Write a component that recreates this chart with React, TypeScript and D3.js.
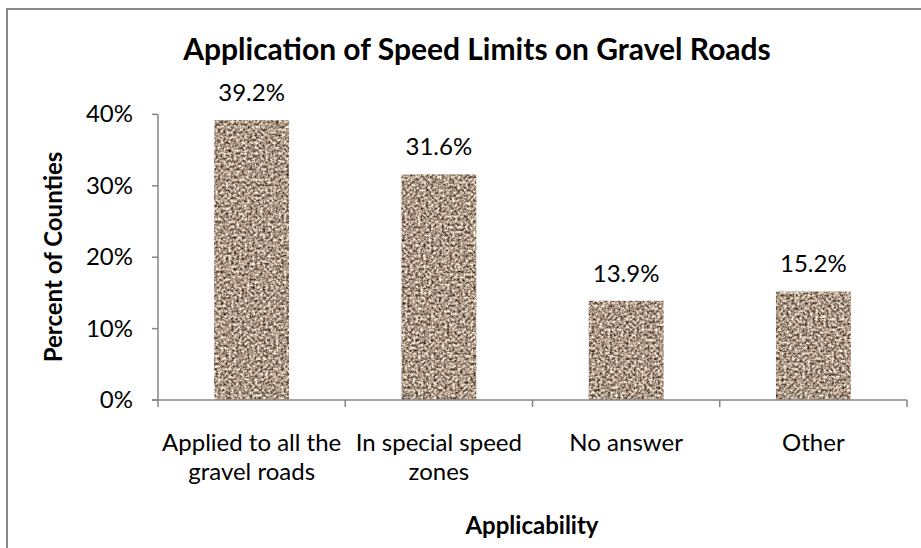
import React from 'react';
import * as d3 from 'd3';

const categories = [['Applied to all the', 'gravel roads'], ['In special speed', 'zones'], ['No answer'], ['Other']];
const values = [39.2, 31.6, 13.9, 15.2];
const yTicks = [0, 10, 20, 30, 40];

const FONT = 'Lato, "Liberation Sans", sans-serif';

const App = () => {
    const width = 921;
    const height = 548;
    const left = 158;
    const right = 907;
    const top = 114.4;
    const bottom = 400;

    const x = d3.scaleBand<number>()
        .domain(d3.range(values.length))
        .range([left, right])
        .paddingInner(0.6)
        .paddingOuter(0.3);

    const y = d3.scaleLinear().domain([0, 40]).range([bottom, top]);

    const step = (right - left) / values.length;
    const catEdges = d3.range(values.length + 1).map(i => left + i * step);

    return (
        <svg width={width} height={height} style={{ position: 'absolute', left: 0, top: 0, background: '#fff' }}>
            <defs>
                {/* granite-like fill, as in the original picture fill */}
                <filter id="gravel" x="0" y="0" width="100%" height="100%" colorInterpolationFilters="sRGB">
                    <feTurbulence type="fractalNoise" baseFrequency="0.38" numOctaves="3" seed="11" result="noise" />
                    <feColorMatrix in="noise" type="matrix"
                        values="1.4 0 0 0 -0.03  1.35 0 0 0 -0.08  1.3 0 0 0 -0.12  0 0 0 0 1" result="col" />
                    <feComposite in="col" in2="SourceGraphic" operator="in" />
                </filter>
            </defs>
            <rect x={7} y={9} width={940} height={560} fill="#fff" stroke="#888" strokeWidth={2} />

            <text x={477} y={60} textAnchor="middle" fontFamily={FONT} fontWeight="bold" fontSize={30}>
                Application of Speed Limits on Gravel Roads
            </text>

            {values.map((v, i) => (
                <rect key={i} x={x(i)} y={y(v)} width={x.bandwidth()} height={bottom - y(v)}
                    fill="#a5978a" filter="url(#gravel)" />
            ))}

            {values.map((v, i) => (
                <text key={i} x={x(i)! + x.bandwidth() / 2} y={y(v) - 19} textAnchor="middle"
                    fontFamily={FONT} fontSize={24}>{v.toFixed(1)}%</text>
            ))}

            <line x1={left} x2={left} y1={top} y2={bottom} stroke="#868686" strokeWidth={1.5} />
            {yTicks.map(t => (
                <g key={t}>
                    <line x1={left - 6} x2={left} y1={y(t)} y2={y(t)} stroke="#868686" strokeWidth={1.5} />
                    <text x={133} y={y(t) + 8} textAnchor="end" fontFamily={FONT} fontSize={24}>{t}%</text>
                </g>
            ))}

            <line x1={left - 6} x2={right} y1={bottom} y2={bottom} stroke="#868686" strokeWidth={1.5} />
            {catEdges.map((e, i) => (
                <line key={i} x1={e} x2={e} y1={bottom} y2={bottom + 7} stroke="#868686" strokeWidth={1.5} />
            ))}

            {categories.map((lines, i) => (
                <text key={i} textAnchor="middle" fontFamily={FONT} fontSize={24}>
                    {lines.map((l, j) => (
                        <tspan key={j} x={x(i)! + x.bandwidth() / 2} y={451 + j * 29}>{l}</tspan>
                    ))}
                </text>
            ))}

            <text x={532} y={534} textAnchor="middle" fontFamily={FONT} fontWeight="bold" fontSize={24}>
                Applicability
            </text>
            <text transform={`translate(62, 257) rotate(-90)`} textAnchor="middle" fontFamily={FONT}
                fontWeight="bold" fontSize={24}>
                Percent of Counties
            </text>
        </svg>
    );
};

export default App;
